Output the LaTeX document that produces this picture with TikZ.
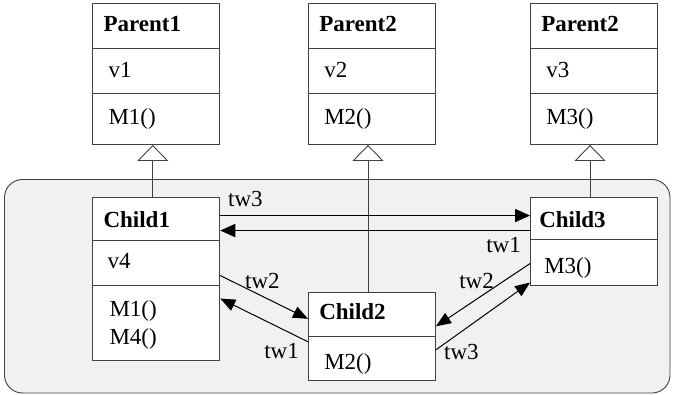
\documentclass[tikz,border=0pt]{standalone}
\usepackage{fontspec}
\setmainfont{Liberation Serif}
\usetikzlibrary{arrows.meta}
\definecolor{panelgray}{RGB}{241,241,241}
\definecolor{edgegray}{RGB}{64,64,64}
\begin{document}
\begin{tikzpicture}[x=1pt,y=-1pt,
  every node/.style={inner sep=0pt,font=\fontsize{23}{28}\selectfont},
  classbox/.style={draw=edgegray,fill=white,line width=0.9pt,minimum width=127pt},
  hdr/.style={anchor=base west,font=\fontsize{23}{28}\selectfont\bfseries},
  entry/.style={anchor=base west},
  divline/.style={draw=edgegray,line width=0.9pt},
  inherit/.style={draw=edgegray,line width=0.9pt,-{Triangle[open,length=16pt,width=31pt]}},
  callarrow/.style={line width=1pt,-{Triangle[length=15pt,width=12pt]}},
  mutual/.style={line width=1.8pt,-{Triangle[length=15pt,width=13pt]}}]
\useasboundingbox (0,0) rectangle (674,395);
\draw[draw=edgegray,fill=panelgray,line width=0.9pt,rounded corners=18pt] (4.5,179.5) rectangle (670,393);
% parents
\node[classbox,minimum height=141pt] (p1) at (156.3,74) {};
\node[classbox,minimum height=141pt] (p2) at (372,74) {};
\node[classbox,minimum height=141pt] (p3) at (594,74) {};
\draw[divline] ([yshift=-45pt]p1.north west) -- ([yshift=-45pt]p1.north east);
\draw[divline] ([yshift=-90pt]p1.north west) -- ([yshift=-90pt]p1.north east);
\draw[divline] ([yshift=-45pt]p2.north west) -- ([yshift=-45pt]p2.north east);
\draw[divline] ([yshift=-90pt]p2.north west) -- ([yshift=-90pt]p2.north east);
\draw[divline] ([yshift=-45pt]p3.north west) -- ([yshift=-45pt]p3.north east);
\draw[divline] ([yshift=-90pt]p3.north west) -- ([yshift=-90pt]p3.north east);
\node[hdr] (p1t) at ([shift={(11,28.5)}]p1.north west) {Parent1};
\node[entry] (p1a) at ([shift={(16,74)}]p1.north west) {v1};
\node[entry] (p1m) at ([shift={(16,121.5)}]p1.north west) {M1()};
\node[hdr] (p2t) at ([shift={(11,28.5)}]p2.north west) {Parent2};
\node[entry] (p2a) at ([shift={(16,74)}]p2.north west) {v2};
\node[entry] (p2m) at ([shift={(16,121.5)}]p2.north west) {M2()};
\node[hdr] (p3t) at ([shift={(11,28.5)}]p3.north west) {Parent2};
\node[entry] (p3a) at ([shift={(16,74)}]p3.north west) {v3};
\node[entry] (p3m) at ([shift={(16,121.5)}]p3.north west) {M3()};
% children
\node[classbox,minimum height=163pt] (c1) at (156.3,278.5) {};
\node[classbox,minimum height=88.5pt] (c2) at (372,336.5) {};
\node[classbox,minimum height=88pt] (c3) at (594,241) {};
\draw[divline] ([yshift=-44pt]c1.north west) -- ([yshift=-44pt]c1.north east);
\draw[divline] ([yshift=-88.5pt]c1.north west) -- ([yshift=-88.5pt]c1.north east);
\draw[divline] ([yshift=-45pt]c2.north west) -- ([yshift=-45pt]c2.north east);
\draw[divline] ([yshift=-43pt]c3.north west) -- ([yshift=-43pt]c3.north east);
\node[hdr] (c1t) at ([shift={(11,31.3)}]c1.north west) {Child1};
\node[entry] (c1a) at ([shift={(15,72)}]c1.north west) {v4};
\node[entry] (c1m) at ([shift={(17,119.7)}]c1.north west) {M1()};
\node[entry] (c1n) at ([shift={(17,148)}]c1.north west) {M4()};
\node[hdr] (c2t) at ([shift={(11,27.75)}]c2.north west) {Child2};
\node[entry] (c2m) at ([shift={(16,77.75)}]c2.north west) {M2()};
\node[hdr] (c3t) at ([shift={(9,31.3)}]c3.north west) {Child3};
\node[entry] (c3m) at ([shift={(14,77)}]c3.north west) {M3()};
% generalisation
\draw[inherit] ([xshift=-3.5pt]c1.north) -- ([xshift=-3.5pt]p1.south);
\draw[inherit] ([xshift=-4pt]c2.north) -- ([xshift=-4pt]p2.south);
\draw[inherit] ([xshift=-4pt]c3.north) -- ([xshift=-4pt]p3.south);
% links
\draw[mutual] ([yshift=-19pt]c1.north east) -- ([yshift=-19pt]c3.north west);
\draw[mutual] ([yshift=-34pt]c3.north west) -- ([yshift=-34pt]c1.north east);
\draw[callarrow] ([yshift=-79pt]c1.north east) -- ([yshift=-27pt]c2.north west);
\draw[callarrow] ([yshift=-50pt]c2.north west) -- ([yshift=-102pt]c1.north east);
\draw[callarrow] ([yshift=-67pt]c3.north west) -- ([yshift=-34.5pt]c2.north east);
\draw[callarrow] ([yshift=-58pt]c2.north east) -- ([yshift=-86pt]c3.north west);
\node[anchor=base west] (tw3a) at (228,207) {tw3};
\node[anchor=base east] (tw1a) at (521,252) {tw1};
\node[anchor=base west] (tw2a) at (245,288) {tw2};
\node[anchor=base east] (tw2b) at (494,288) {tw2};
\node[anchor=base east] (tw1b) at (299,358) {tw1};
\node[anchor=base west] (tw3b) at (444,359) {tw3};
\end{tikzpicture}
\end{document}
